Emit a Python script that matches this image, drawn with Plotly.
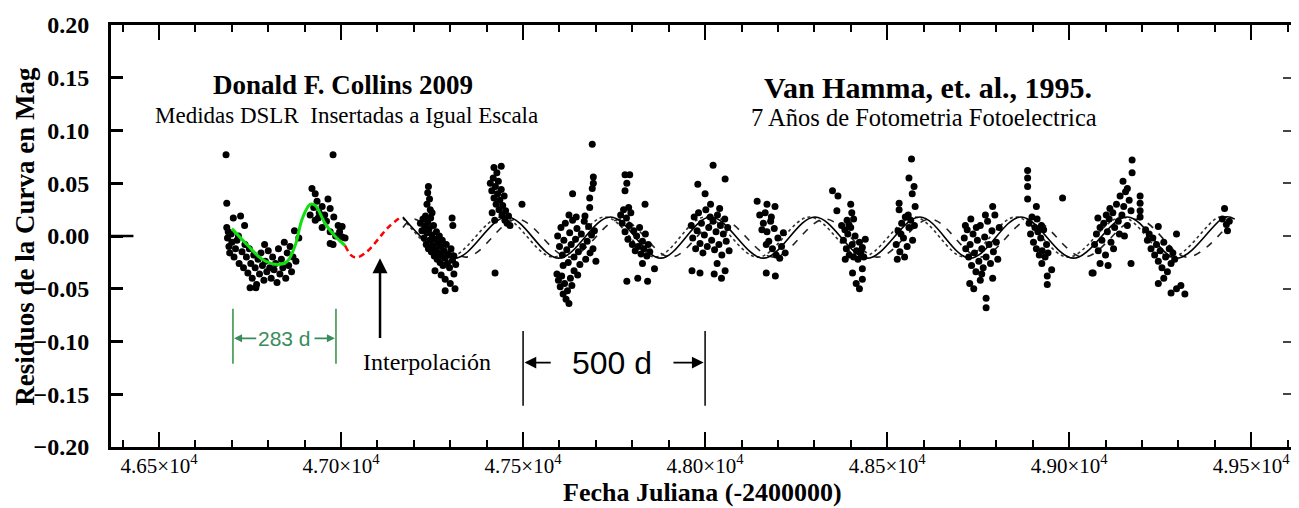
import plotly.graph_objects as go

# ---- data ----
# DSLR measurements (Collins 2009), JD - 2400000 and residual in mag
dslr_jd = [46684, 46686, 46978,
           46686, 46688, 46690, 46692, 46694, 46698, 46700, 46704, 46706, 46710,
           46714, 46718, 46720, 46724, 46728, 46732, 46736, 46740, 46744, 46748,
           46750, 46752, 46756, 46760, 46764, 46768, 46772, 46776, 46780, 46784,
           46788, 46792, 46796, 46800, 46804, 46808, 46812, 46816, 46820, 46824,
           46828, 46832, 46836, 46840, 46844, 46848, 46852, 46856, 46860, 46864,
           46868, 46872, 46876, 46884, 46735, 46766, 46790,
           46920, 46929, 46934, 46948, 46964, 46970, 46929, 46937, 46948, 46970,
           46970, 46978, 46992, 47003, 47003, 47011, 46940, 46955, 46925, 46985,
           46960, 46996, 46915, 46980]
dslr_mag = [0.077, 0.031, 0.077,
            0.008, -0.002, 0.004, -0.010, -0.016, 0.002, -0.006, 0.017, -0.020, -0.012,
            -0.004, 0.000, -0.026, 0.019, -0.015, -0.030, -0.008, -0.020, -0.035, -0.012,
            -0.049, -0.026, -0.040, -0.018, -0.030, -0.046, -0.022, -0.036, -0.016, -0.028,
            -0.042, -0.024, -0.034, -0.014, -0.030, -0.040, -0.020, -0.032, -0.026, -0.044,
            -0.012, -0.036, -0.022, -0.030, -0.006, -0.040, -0.016, -0.028, -0.010, -0.034,
            -0.020, 0.005, -0.024, -0.002, 0.010, -0.049, -0.008,
            0.045, 0.040, 0.033, 0.028, 0.035, 0.026, 0.015, 0.017, 0.008, 0.004,
            -0.007, -0.008, 0.010, 0.009, -0.001, -0.002, 0.022, 0.020, 0.027, 0.000,
            0.014, 0.004, 0.020, 0.018]

# photoelectric photometry (Van Hamme et al. 1995)
vh_jd = [
    # season 1
    47240, 47238, 47243, 47236, 47245, 47250,
    47218, 47222, 47225, 47228, 47230, 47232, 47234, 47236, 47238, 47240, 47242, 47244,
    47246, 47248, 47250, 47252, 47254, 47256, 47258, 47260, 47262, 47264, 47266, 47268,
    47270, 47272, 47274, 47276, 47278, 47280, 47283, 47286, 47289, 47292, 47295, 47298,
    47302, 47306, 47310, 47315, 47305, 47307,
    47258, 47286, 47286, 47313, 47300, 47275, 47310,
    # season 2
    47420, 47440, 47428,
    47410, 47414, 47418, 47420, 47424, 47426, 47430, 47432, 47434, 47436, 47440, 47442,
    47444, 47448, 47450, 47452, 47456, 47460, 47464, 47415, 47422,
    47423, 47497,
    # season 3
    47690, 47693, 47693, 47690, 47636, 47683, 47683,
    47595, 47600, 47604, 47608, 47612, 47616, 47620, 47624, 47628, 47632, 47636, 47640,
    47644, 47648, 47652, 47656, 47660, 47664, 47668, 47672, 47676, 47680, 47684, 47688,
    47692, 47696, 47700, 47646, 47670, 47610, 47626,
    47593, 47597, 47602, 47606, 47610, 47614, 47618, 47622, 47626, 47630, 47634, 47640,
    47650,
    # season 4
    47780, 47793, 47785, 47780, 47835,
    47768, 47772, 47776, 47780, 47784, 47788, 47792, 47796, 47800, 47804, 47808, 47812,
    47816, 47820, 47824, 47828, 47832, 47836, 47840, 47844, 47848, 47790,
    47785, 47815, 47842, 47828, 47861,
    # season 5
    48022, 48055, 47980, 48000, 48015,
    47962, 47966, 47970, 47974, 47978, 47982, 47986, 47990, 47994, 47998, 48002, 48006,
    48010, 48014, 48018, 48022, 48026, 48030, 48034, 48038, 48042, 48046, 48050, 48054,
    48058, 48062, 48066, 48040,
    47964, 47986, 48025, 48055, 48033, 48045,
    # season 6
    48143, 48170, 48192, 48150, 48160, 48165, 48170, 48175, 48180, 48185, 48190, 48195,
    48200, 48205, 48210, 48215, 48220, 48182, 48168, 48156,
    48168, 48193,
    # season 7
    48350, 48365, 48362, 48403, 48408, 48400,
    48375, 48380, 48384, 48388, 48392, 48396, 48400, 48404, 48408, 48412, 48416, 48420,
    48424, 48428, 48432, 48436, 48440, 48390, 48395,
    48405, 48432, 48432, 48424, 48415, 48385,
    # season 8
    48567, 48560, 48574, 48569, 48533, 48577, 48533,
    48525, 48530, 48535, 48540, 48545, 48550, 48555, 48560, 48565, 48570, 48575, 48548,
    48538, 48558, 48528,
    # season 9
    48790, 48730, 48715,
    48712, 48716, 48720, 48724, 48728, 48732, 48736, 48740, 48744, 48748, 48752, 48756,
    48760, 48764, 48768, 48772, 48776, 48780, 48784, 48788, 48792, 48796, 48800, 48804,
    48808, 48770, 48760, 48745,
    48727, 48738, 48772, 48772, 48790, 48756,
    # season 10
    48886, 48886, 48886, 48886, 48910, 48982,
    48890, 48894, 48898, 48902, 48906, 48910, 48914, 48918, 48922, 48926, 48930, 48934,
    48938, 48942, 48912, 48924,
    48925, 48940, 48940, 48952, 49063, 49079,
    # season 11
    49173, 49173, 49148, 49160,
    49070, 49075, 49080, 49085, 49090, 49095, 49100, 49105, 49110, 49115, 49120, 49125,
    49130, 49135, 49140, 49145, 49150, 49155, 49160, 49165, 49170, 49138, 49122, 49102,
    49112, 49152,
    49066, 49085, 49107, 49170,
    # season 12
    49195, 49195, 49195, 49195, 49245,
    49210, 49215, 49220, 49225, 49230, 49235, 49240, 49245, 49250, 49255, 49260, 49265,
    49270, 49275, 49280, 49285, 49290, 49295,
    49245, 49280, 49307, 49318, 49295, 49260,
    # season 13
    49427, 49421, 49432, 49435, 49440]
vh_mag = [
    0.047, 0.041, 0.035, 0.030, 0.025, 0.022,
    0.012, 0.005, 0.016, -0.002, 0.009, 0.019, -0.008, 0.003, 0.013, -0.012, 0.007, -0.004,
    0.017, -0.015, 0.001, -0.009, 0.010, -0.019, -0.003, -0.013, 0.004, -0.022, -0.007, -0.016,
    0.000, -0.025, -0.010, -0.019, -0.004, -0.028, -0.014, -0.021, -0.008, -0.026, -0.017, -0.030,
    -0.012, -0.023, -0.019, -0.027, 0.017, 0.010,
    -0.033, -0.041, -0.052, -0.050, -0.045, -0.037, -0.036,
    0.065, 0.066, 0.060,
    0.050, 0.043, 0.055, 0.036, 0.047, 0.030, 0.040, 0.052, 0.025, 0.034, 0.044, 0.020,
    0.029, 0.038, 0.015, 0.024, 0.012, 0.019, 0.010, 0.022, 0.015,
    -0.035, 0.030,
    0.087, 0.056, 0.050, 0.045, 0.040, 0.036, 0.027,
    0.000, -0.010, 0.008, -0.018, -0.004, 0.012, -0.013, -0.025, 0.003, -0.008, 0.015, -0.020,
    -0.003, 0.007, -0.015, -0.027, 0.002, -0.010, 0.014, -0.022, -0.005, 0.009, -0.016, 0.001,
    -0.012, 0.005, -0.024, 0.018, 0.019, -0.028, 0.020,
    -0.036, -0.042, -0.048, -0.038, -0.055, -0.045, -0.060, -0.052, -0.064, -0.040, -0.047, -0.033,
    -0.037,
    0.058, 0.058, 0.050, 0.043, 0.030,
    0.020, 0.012, 0.025, 0.004, 0.017, -0.003, 0.010, 0.022, -0.008, 0.005, -0.014, 0.000,
    -0.010, 0.008, -0.017, -0.005, -0.012, 0.002, -0.019, -0.008, -0.015, 0.027,
    -0.043, -0.040, -0.043, -0.026, -0.031,
    0.067, 0.054, 0.049, 0.040, 0.030,
    0.010, -0.002, 0.018, -0.012, 0.005, 0.022, -0.007, 0.012, -0.016, 0.001, 0.025, -0.010,
    0.008, 0.018, -0.004, 0.014, -0.013, 0.004, 0.020, -0.008, 0.010, -0.018, 0.002, 0.016,
    -0.005, 0.008, -0.014, 0.026,
    -0.033, -0.035, -0.036, -0.033, -0.026, -0.040,
    0.033, 0.030, 0.028, 0.020, 0.012, 0.022, 0.004, -0.005, 0.014, -0.012, 0.007, -0.018,
    -0.002, -0.021, -0.010, 0.003, -0.016, 0.018, -0.008, 0.006,
    -0.035, -0.038,
    0.043, 0.038, 0.024, 0.022, 0.016, 0.030,
    0.010, -0.004, 0.006, -0.012, 0.002, -0.018, 0.008, -0.008, -0.020, 0.000, -0.014, -0.022,
    -0.006, -0.016, -0.011, -0.020, -0.003, 0.015, 0.011,
    -0.035, -0.031, -0.041, -0.050, -0.045, -0.022,
    0.073, 0.055, 0.047, 0.040, 0.031, 0.028, 0.025,
    -0.008, 0.005, -0.015, 0.012, -0.002, 0.018, -0.010, 0.008, 0.015, -0.004, 0.010, -0.020,
    0.002, 0.020, -0.022,
    0.028, 0.016, 0.010,
    -0.002, -0.012, 0.006, -0.020, -0.008, -0.028, 0.002, -0.016, -0.034, -0.004, -0.024, 0.010,
    -0.012, -0.030, -0.001, -0.020, 0.014, -0.008, -0.026, 0.005, -0.015, 0.020, -0.006, -0.022,
    0.008, 0.020, -0.036, 0.008,
    -0.045, -0.050, -0.059, -0.068, -0.040, -0.042,
    0.062, 0.055, 0.047, 0.035, 0.028, 0.036,
    0.012, 0.002, 0.018, -0.006, 0.008, -0.012, 0.004, -0.018, -0.002, -0.014, 0.006, -0.020,
    -0.008, -0.016, 0.016, 0.010,
    -0.026, -0.038, -0.046, -0.032, -0.035, 0.017,
    0.072, 0.060, 0.052, 0.045,
    -0.008, 0.002, -0.014, 0.008, -0.004, 0.012, -0.018, 0.004, 0.016, -0.006, 0.022, 0.008,
    0.030, 0.014, 0.038, 0.020, 0.028, 0.042, 0.010, 0.034, 0.024, 0.002, -0.012, 0.020,
    0.026, 0.000,
    -0.035, -0.026, -0.028, -0.026,
    0.038, 0.031, 0.024, 0.018, 0.009,
    0.006, -0.004, 0.002, -0.012, -0.002, -0.018, -0.008, -0.024, -0.014, -0.030, -0.006, -0.020,
    -0.034, -0.012, -0.026, -0.016, -0.022, 0.002,
    -0.045, -0.054, -0.047, -0.055, -0.050, -0.040,
    0.026, 0.016, 0.011, 0.005, 0.014]

# green fit through the DSLR points
fit_jd = [46700, 46744, 46783, 46827, 46852, 46874, 46893, 46915, 46929, 46956, 46983, 47011]
fit_mag = [0.007, -0.009, -0.022, -0.027, -0.024, -0.009, 0.016, 0.030, 0.029, 0.012, 0.000, -0.009]

# red interpolation between both data sets
interp_jd = [47011, 47030, 47047, 47074, 47102, 47129, 47168]
interp_mag = [-0.009, -0.019, -0.020, -0.014, -0.003, 0.008, 0.019]

# model curves (maxima / minima)
solid_jd = [47170, 47312, 47456, 47598, 47740, 47878, 48015, 48160, 48302, 48446,
            48590, 48728, 48868, 49012, 49160, 49296, 49428, 49455]
solid_mag = [0.018, -0.021, 0.018, -0.021, 0.018, -0.021, 0.018, -0.021, 0.018, -0.021,
             0.018, -0.021, 0.018, -0.021, 0.018, -0.021, 0.018, 0.016]
dash_jd = [47170, 47200, 47342, 47484, 47626, 47768, 47906, 48043, 48188, 48330, 48474,
           48618, 48756, 48896, 49040, 49188, 49324, 49440]
dash_mag = [0.008, 0.016, -0.020, 0.016, -0.020, 0.016, -0.020, 0.016, -0.020, 0.016, -0.020,
            0.016, -0.020, 0.016, -0.020, 0.016, -0.020, 0.012]
dot_jd = [47170, 47297, 47441, 47583, 47725, 47863, 48000, 48145, 48287, 48431, 48575,
          48713, 48853, 48997, 49145, 49281, 49413, 49450]
dot_mag = [0.017, -0.020, 0.018, -0.020, 0.018, -0.020, 0.018, -0.020, 0.018, -0.020, 0.018,
           -0.020, 0.018, -0.020, 0.018, -0.020, 0.018, 0.014]

x_ticks = [46500, 47000, 47500, 48000, 48500, 49000, 49500]
x_ticktext = ['4.65×10<sup>4</sup>', '4.70×10<sup>4</sup>', '4.75×10<sup>4</sup>',
              '4.80×10<sup>4</sup>', '4.85×10<sup>4</sup>', '4.90×10<sup>4</sup>',
              '4.95×10<sup>4</sup>']

period_start = 46703
period_days = 283
span_start = 47500
span_days = 500
interp_arrow_jd = 47107

SERIF = 'Liberation Serif'
SANS = 'Liberation Sans'
green_txt = '#3a8c5c'

fig = go.Figure()

# model curves
fig.add_trace(go.Scatter(x=dot_jd, y=dot_mag, mode='lines', line_shape='spline',
                         line=dict(color='#333333', width=1.6, dash='dot'), showlegend=False))
fig.add_trace(go.Scatter(x=dash_jd, y=dash_mag, mode='lines', line_shape='spline',
                         line=dict(color='#222222', width=1.6, dash='7px,8px'), showlegend=False))
fig.add_trace(go.Scatter(x=solid_jd, y=solid_mag, mode='lines', line_shape='spline',
                         line=dict(color='black', width=1.6), showlegend=False))

# data points
fig.add_trace(go.Scatter(x=vh_jd, y=vh_mag, mode='markers',
                         marker=dict(color='black', size=7), showlegend=False))
fig.add_trace(go.Scatter(x=dslr_jd, y=dslr_mag, mode='markers',
                         marker=dict(color='black', size=7), showlegend=False))

# DSLR fit and interpolation
fig.add_trace(go.Scatter(x=fit_jd, y=fit_mag, mode='lines', line_shape='spline',
                         line=dict(color='#10e010', width=3), showlegend=False))
fig.add_trace(go.Scatter(x=interp_jd, y=interp_mag, mode='lines', line_shape='spline',
                         line=dict(color='red', width=2.5, dash='6px,4px'), showlegend=False))

# dummy trace so the right hand tick axis is drawn
fig.add_trace(go.Scatter(x=[None], y=[None], yaxis='y2', showlegend=False))

# ---- text labels ----
fig.add_annotation(x=47005, y=0.143, text='Donald F. Collins 2009', showarrow=False,
                   font=dict(family=SERIF, size=27, color='black', weight='bold'))
fig.add_annotation(x=47016, y=0.114, text='Medidas DSLR  Insertadas a Igual Escala', showarrow=False,
                   font=dict(family=SERIF, size=23, color='black'))
fig.add_annotation(x=48612, y=0.141, text='Van Hamma, et. al., 1995.', showarrow=False,
                   font=dict(family=SERIF, size=30, color='black', weight='bold'))
fig.add_annotation(x=48601, y=0.112, text='7 Años de Fotometria Fotoelectrica', showarrow=False,
                   font=dict(family=SERIF, size=24.5, color='black'))
fig.add_annotation(x=47236, y=-0.119, text='Interpolación', showarrow=False,
                   font=dict(family=SERIF, size=24, color='black'))

# axis titles placed by hand
fig.add_annotation(xref='paper', yref='paper', x=0.5, y=-0.108, text='Fecha Juliana (-2400000)',
                   showarrow=False, yanchor='middle',
                   font=dict(family=SERIF, size=26, color='black', weight='bold'))
fig.add_annotation(xref='paper', yref='paper', x=-0.073, y=0.5, text='Residuos de la Curva en Mag',
                   showarrow=False, textangle=-90, xanchor='center', yanchor='middle',
                   font=dict(family=SERIF, size=27, color='black', weight='bold'))

# arrow to the interpolation
fig.add_annotation(x=interp_arrow_jd, y=-0.021, ax=interp_arrow_jd, ay=-0.098,
                   xref='x', yref='y', axref='x', ayref='y', text='', showarrow=True,
                   arrowhead=2, arrowsize=1.2, arrowwidth=2.5, arrowcolor='black')

# 500 d span
span_end = span_start + span_days
for xv in [span_start, span_end]:
    fig.add_shape(type='line', x0=xv, x1=xv, y0=-0.090, y1=-0.161,
                  line=dict(color='black', width=1.5))
fig.add_annotation(x=(span_start + span_end) / 2 - 6, y=-0.120, text='500 d', showarrow=False,
                   font=dict(family=SANS, size=32, color='black'))
fig.add_annotation(x=span_start + 4, y=-0.120, ax=span_start + 80, ay=-0.120,
                   xref='x', yref='y', axref='x', ayref='y', text='', showarrow=True,
                   arrowhead=2, arrowsize=1.3, arrowwidth=1.8, arrowcolor='black')
fig.add_annotation(x=span_end - 4, y=-0.120, ax=span_end - 91, ay=-0.120,
                   xref='x', yref='y', axref='x', ayref='y', text='', showarrow=True,
                   arrowhead=2, arrowsize=1.3, arrowwidth=1.8, arrowcolor='black')

# 283 d period
period_end = period_start + period_days
for xv in [period_start, period_end]:
    fig.add_shape(type='line', x0=xv, x1=xv, y0=-0.069, y1=-0.121,
                  line=dict(color='#2f8f3f', width=1.5))
fig.add_annotation(x=(period_start + period_end) / 2, y=-0.097, text='283 d', showarrow=False,
                   font=dict(family=SANS, size=21, color=green_txt))
fig.add_annotation(x=period_start + 3, y=-0.097, ax=period_start + 68, ay=-0.097,
                   xref='x', yref='y', axref='x', ayref='y', text='', showarrow=True,
                   arrowhead=2, arrowsize=1, arrowwidth=1.6, arrowcolor=green_txt)
fig.add_annotation(x=period_end - 3, y=-0.097, ax=period_end - 63, ay=-0.097,
                   xref='x', yref='y', axref='x', ayref='y', text='', showarrow=True,
                   arrowhead=2, arrowsize=1, arrowwidth=1.6, arrowcolor=green_txt)

# longer tick at zero on the left axis
fig.add_shape(type='line', xref='paper', yref='y', x0=0, x1=0.019, y0=0, y1=0,
              line=dict(color='black', width=2.5))

# the page body adds an 8px offset, so the figure is 8px smaller than the window
fig.update_layout(
    width=1291,
    height=500,
    margin=dict(l=103, r=6, t=17, b=61),
    paper_bgcolor='white',
    plot_bgcolor='white',
    showlegend=False,
    xaxis=dict(
        range=[46368, 49615],
        automargin=False,
        tickmode='array',
        tickvals=x_ticks,
        ticktext=x_ticktext,
        ticks='inside',
        ticklen=15,
        tickwidth=2,
        tickcolor='black',
        ticklabelstandoff=-2,
        minor=dict(dtick=100, tick0=46500, ticks='inside', ticklen=7, tickwidth=2, tickcolor='black'),
        showline=True,
        linewidth=3,
        linecolor='black',
        mirror='ticks',
        showgrid=False,
        zeroline=False,
        tickfont=dict(family=SERIF, size=21, color='black'),
    ),
    yaxis=dict(
        range=[-0.2, 0.2],
        automargin=False,
        dtick=0.05,
        tickformat='.2f',
        ticks='inside',
        ticklen=12,
        tickwidth=2.5,
        tickcolor='black',
        ticklabelstandoff=14,
        showline=True,
        linewidth=3,
        linecolor='black',
        showgrid=False,
        zeroline=False,
        tickfont=dict(family=SERIF, size=24, color='black', weight='bold'),
    ),
    yaxis2=dict(
        overlaying='y',
        side='right',
        automargin=False,
        range=[-0.2, 0.2],
        dtick=0.05,
        ticks='inside',
        ticklen=10,
        tickwidth=2,
        tickcolor='#444444',
        showticklabels=False,
        showline=False,
        showgrid=False,
        zeroline=False,
    ),
)

fig.write_html("out.html")
